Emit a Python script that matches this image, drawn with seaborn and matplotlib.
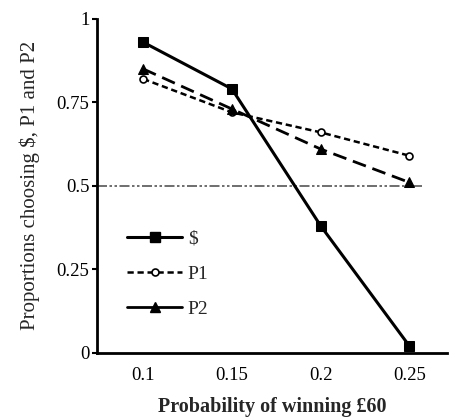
import matplotlib
matplotlib.use("Agg")
import matplotlib.pyplot as plt
from matplotlib.lines import Line2D
import seaborn as sns
import pandas as pd

# probabilities of winning £60 (categories on x)
probs = ["0.1", "0.15", "0.2", "0.25"]

# proportions choosing each option
p_dollar = [0.93, 0.79, 0.38, 0.02]
p_p1 = [0.82, 0.72, 0.66, 0.59]
p_p2 = [0.85, 0.73, 0.61, 0.51]

y_ticks = [0, 0.25, 0.5, 0.75, 1]
y_tick_labels = ["0", "0.25", "0.5", "0.75", "1"]

sns.set_style("white")
plt.rcParams["font.family"] = ["Liberation Serif", "DejaVu Serif"]

fig = plt.figure(figsize=(4.49, 4.18), dpi=100)
ax = fig.add_axes([0.216, 0.156, 0.779, 0.799])

# reference line at 0.5
ax.axhline(0.5, xmin=0, xmax=0.93, color="#555555", lw=1.2,
           dashes=(6, 1.5, 1.5, 1.5, 1.5, 1.5), zorder=1)

df = pd.DataFrame({"prob": probs, "$": p_dollar, "P1": p_p1, "P2": p_p2})

sns.lineplot(data=df, x="prob", y="$", ax=ax, color="black", lw=2.2,
             marker="s", markersize=6.5, markeredgecolor="black", zorder=4)
sns.lineplot(data=df, x="prob", y="P1", ax=ax, color="black", lw=1.8,
             dashes=(2.5, 1.5), marker="o", markersize=5,
             markerfacecolor="white", markeredgecolor="black",
             markeredgewidth=1.2, zorder=3)
sns.lineplot(data=df, x="prob", y="P2", ax=ax, color="black", lw=2.0,
             dashes=(5, 2.5), marker="^", markersize=6.5,
             markeredgecolor="black", zorder=3)

ax.set_xlim(-0.52, 3.42)
ax.set_ylim(0, 1)
ax.set_yticks(y_ticks)
ax.set_yticklabels(y_tick_labels)

ax.set_xlabel("Probability of winning £60", fontsize=14.5,
              fontweight="bold", labelpad=9)
ax.set_ylabel("Proportions choosing $, P1 and P2", fontsize=15,
              labelpad=12)

for side in ["top", "right"]:
    ax.spines[side].set_visible(False)
for side in ["left", "bottom"]:
    ax.spines[side].set_color("black")
    ax.spines[side].set_linewidth(2)

ax.tick_params(axis="y", which="major", left=True, direction="out",
               length=3.5, width=1.5, labelsize=13.5, colors="black", pad=2)
ax.tick_params(axis="x", which="major", bottom=False, labelsize=13.5,
               colors="black", pad=7)

handles = [
    Line2D([], [], color="black", lw=2.2, marker="s", markersize=6.5),
    Line2D([], [], color="black", lw=1.8, dashes=(2.5, 1.5), marker="o",
           markersize=5, markerfacecolor="white", markeredgewidth=1.2),
    Line2D([], [], color="black", lw=2.0, marker="^", markersize=6.5),
]
ax.legend(handles, ["$", "P1", "P2"], loc="lower left",
          bbox_to_anchor=(0.037, 0.052), frameon=False, fontsize=14,
          handlelength=2.8, handletextpad=0.3, labelspacing=0.9)

fig.savefig("out.png", dpi=100)
